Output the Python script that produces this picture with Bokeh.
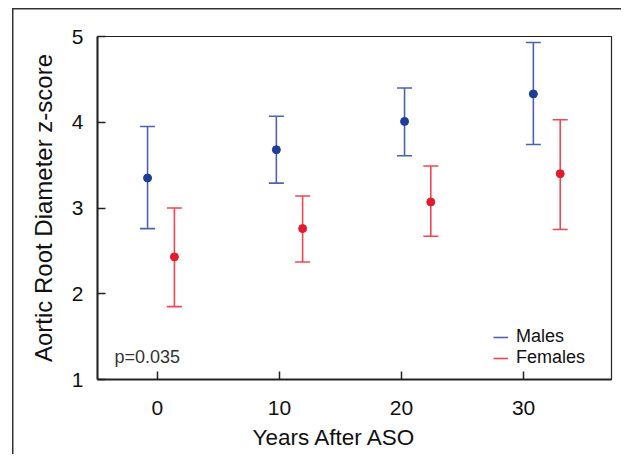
from bokeh.plotting import figure
from bokeh.models import (Range1d, FixedTicker, Legend, LegendItem, Label, Title)
from bokeh.embed import file_html
from bokeh.resources import INLINE

# ---- data ----
male_x = [-0.8, 9.75, 20.25, 30.8]
male_mean = [3.35, 3.68, 4.01, 4.33]
male_upper = [3.95, 4.07, 4.40, 4.93]
male_lower = [2.76, 3.29, 3.61, 3.74]

female_x = [1.4, 11.9, 22.4, 33.0]
female_mean = [2.43, 2.76, 3.07, 3.40]
female_upper = [3.00, 3.14, 3.49, 4.03]
female_lower = [1.85, 2.37, 2.67, 2.75]

x_ticks = [0, 10, 20, 30]
y_ticks = [1, 2, 3, 4, 5]
x_title = "Years After ASO"
y_title = "Aortic Root Diameter z-score"
p_text = "p=0.035"

FONT = "Liberation Sans"
BLUE_DOT = "#1c3e98"
BLUE_BAR = "#4d62b3"
RED_DOT = "#e41b2c"
RED_BAR = "#ee4751"

p = figure(width=621, height=454, output_backend="svg", toolbar_location=None,
           x_range=Range1d(-4.9, 37.2), y_range=Range1d(1, 5),
           min_border_left=97, min_border_right=10, min_border_top=36, min_border_bottom=74)
# outer panel frame (left and top edges) drawn as the page element's background
p.border_fill_color = None
p.styles = {
    "background": ("linear-gradient(#333333, #333333) 12px 8px / 1.5px 100% no-repeat, "
                   "linear-gradient(#333333, #333333) 12px 8px / 100% 1.5px no-repeat, "
                   "white"),
}

p.grid.visible = False
p.outline_line_color = "#222222"
p.outline_line_width = 1.2
p.background_fill_color = "white"

for ax in (p.xaxis[0], p.yaxis[0]):
    ax.axis_line_width = 2
    ax.axis_line_color = "#222222"
    ax.major_tick_in = 8
    ax.major_tick_out = 0
    ax.major_tick_line_width = 1.5
    ax.major_tick_line_color = "#222222"
    ax.minor_tick_line_color = None
    ax.major_label_text_font = FONT
    ax.major_label_text_font_size = "21px"
    ax.major_label_text_color = "#111111"
    ax.axis_label_text_font = FONT
    ax.axis_label_text_font_style = "normal"
    ax.axis_label_text_color = "#111111"

p.xaxis.ticker = FixedTicker(ticks=x_ticks)
p.yaxis.ticker = FixedTicker(ticks=y_ticks)
p.yaxis.axis_label = y_title
p.yaxis.axis_label_text_font_size = "24px"
p.xaxis.major_label_standoff = 21
p.yaxis.major_label_standoff = 14
p.yaxis.axis_label_standoff = 12

# x-axis title sits a little left of the frame centre in the original
p.add_layout(Title(text=x_title, align="left", offset=155,
                   text_font=FONT, text_font_size="22.5px", text_font_style="normal",
                   text_color="#111111"), "below")

# error bars: stems + caps
m_stem = p.segment(x0=male_x, y0=male_lower, x1=male_x, y1=male_upper,
                   line_color=BLUE_BAR, line_width=1.6)
p.dash(x=male_x + male_x, y=male_upper + male_lower, size=15,
       line_color=BLUE_BAR, line_width=1.6)
f_stem = p.segment(x0=female_x, y0=female_lower, x1=female_x, y1=female_upper,
                   line_color=RED_BAR, line_width=1.6)
p.dash(x=female_x + female_x, y=female_upper + female_lower, size=15,
       line_color=RED_BAR, line_width=1.6)

p.scatter(x=male_x, y=male_mean, size=8, fill_color=BLUE_DOT, line_color=BLUE_DOT)
p.scatter(x=female_x, y=female_mean, size=8, fill_color=RED_DOT, line_color=RED_DOT)

legend = Legend(items=[LegendItem(label="Males", renderers=[m_stem]),
                       LegendItem(label="Females", renderers=[f_stem])],
                location=(396, 11), padding=0, margin=0, spacing=0,
                glyph_width=15, glyph_height=20, label_height=20, label_standoff=8,
                label_text_font=FONT, label_text_font_size="18px",
                label_text_color="#111111",
                border_line_color=None, background_fill_alpha=0)
p.add_layout(legend, "center")

p.add_layout(Label(x=17, y=13, x_units="screen", y_units="screen", text=p_text,
                   text_font=FONT, text_font_size="18px", text_color="#333333"))

open("out.html", "w").write(file_html(p, INLINE))
